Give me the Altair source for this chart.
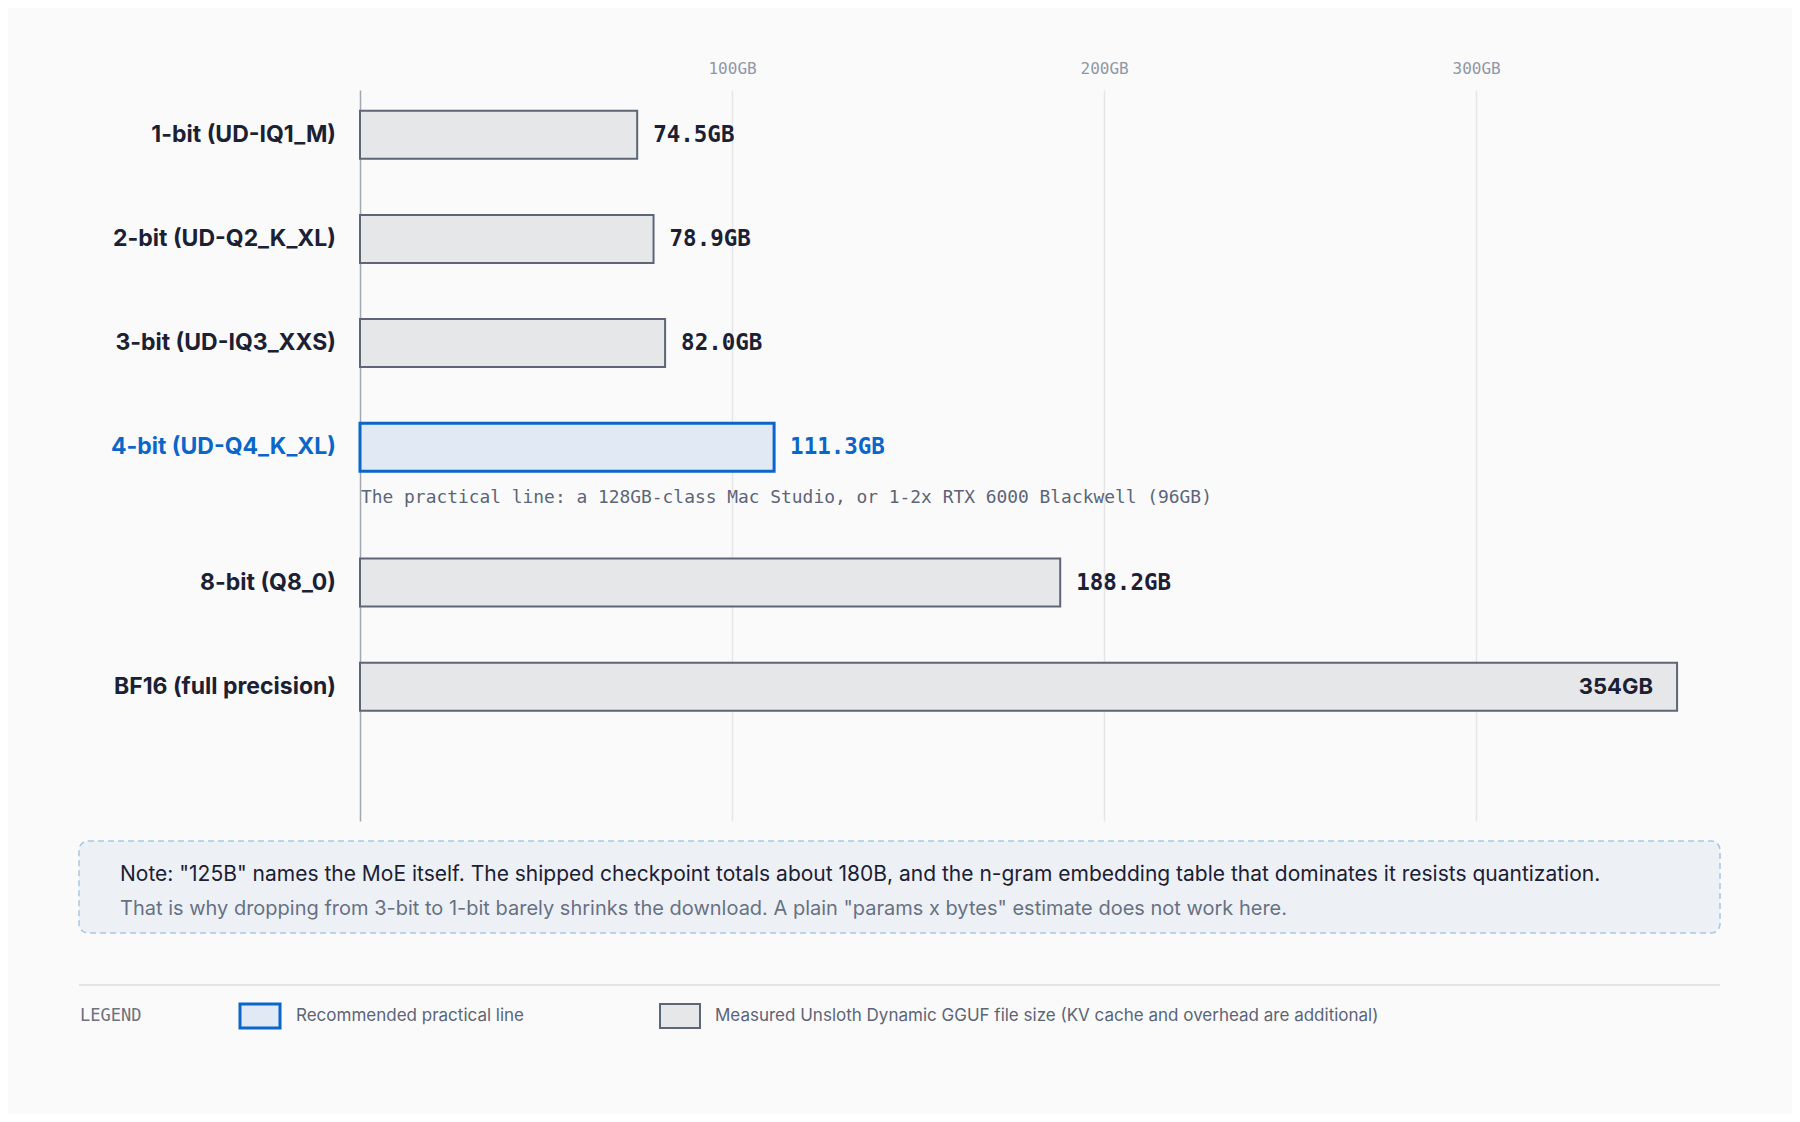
import altair as alt
import pandas as pd

# ---- data ----
categories = ["1-bit (UD-IQ1_M)", "2-bit (UD-Q2_K_XL)", "3-bit (UD-IQ3_XXS)",
              "4-bit (UD-Q4_K_XL)", "8-bit (Q8_0)", "BF16 (full precision)"]
sizes_gb = [74.5, 78.9, 82.0, 111.3, 188.2, 354]
size_labels = ["74.5GB", "78.9GB", "82.0GB", "111.3GB", "188.2GB", "354GB"]
recommended = [False, False, False, True, False, False]
axis_ticks = [100, 200, 300]

annotation = "The practical line: a 128GB-class Mac Studio, or 1-2x RTX 6000 Blackwell (96GB)"
note_line1 = ('Note: "125B" names the MoE itself. The shipped checkpoint totals about 180B, '
              'and the n-gram embedding table that dominates it resists quantization.')
note_line2 = ('That is why dropping from 3-bit to 1-bit barely shrinks the download. '
              'A plain "params x bytes" estimate does not work here.')
legend_title = "LEGEND"
legend_items = ["Recommended practical line",
                "Measured Unsloth Dynamic GGUF file size (KV cache and overhead are additional)"]

# row slots: extra room after the recommended row for its annotation
slots = [i + (0.3 if i >= 4 else 0.0) for i in range(len(categories))]

df = pd.DataFrame({
    "category": categories,
    "size": sizes_gb,
    "label": size_labels,
    "rec": recommended,
    "slot": slots,
})

SANS = "Inter"
MONO = "DejaVu Sans Mono"
DARK = "#1c2033"
BLUE = "#0a66c8"
GREY_TXT = "#5b6577"
BAR_STROKE = "#5c6678"
BAR_FILL = "#e6e7e9"
REC_FILL = "#e1eaf4"

W, H = 1358, 731
xscale = alt.Scale(domain=[0, 365], nice=False, zero=True, padding=0)
yscale = alt.Scale(domain=[-0.43, 6.59], reverse=True, nice=False, zero=False, padding=0)

base = alt.Chart(df)

x_enc = alt.X("size:Q", scale=xscale,
              axis=alt.Axis(orient="top", values=axis_ticks, labelExpr="datum.value + 'GB'",
                            grid=True, gridColor="#e6e6e6", gridWidth=1.5,
                            domain=False, ticks=False, title=None,
                            labelFont=MONO, labelFontSize=16, labelColor="#8f97a6",
                            labelPadding=14))
y_enc = alt.Y("slot:Q", scale=yscale,
              axis=alt.Axis(labels=False, ticks=False, grid=False, domain=True,
                            domainColor="#a3a8b0", domainWidth=1.5, title=None))

bars = base.transform_filter("!datum.rec").mark_bar(
    orient="horizontal", height=48, fill=BAR_FILL, stroke=BAR_STROKE, strokeWidth=2
).encode(x=x_enc, y=y_enc)

rec_bar = base.transform_filter("datum.rec").mark_bar(
    orient="horizontal", height=48, fill=REC_FILL, stroke=BLUE, strokeWidth=3
).encode(x=alt.X("size:Q", scale=xscale), y=alt.Y("slot:Q", scale=yscale))

txt_color = alt.condition("datum.rec", alt.value(BLUE), alt.value(DARK))

row_labels = base.mark_text(align="right", baseline="middle", dx=-24,
                            font=SANS, fontSize=23, fontWeight="bold").encode(
    x=alt.value(0), y=alt.Y("slot:Q", scale=yscale), text="category:N", color=txt_color)

val_out = base.transform_filter("datum.size < 300").mark_text(
    align="left", baseline="middle", dx=16, font=MONO, fontSize=22.5, fontWeight="bold"
).encode(x=alt.X("size:Q", scale=xscale), y=alt.Y("slot:Q", scale=yscale),
         text="label:N", color=txt_color)

val_in = base.transform_filter("datum.size >= 300").mark_text(
    align="right", baseline="middle", dx=-24, font=SANS, fontSize=22, fontWeight="bold"
).encode(x=alt.X("size:Q", scale=xscale), y=alt.Y("slot:Q", scale=yscale),
         text="label:N", color=alt.value(DARK))

annot = base.transform_filter("datum.rec").mark_text(
    align="left", baseline="middle", dx=1, dy=51, font=MONO, fontSize=17.9, color=GREY_TXT
).encode(x=alt.value(0), y=alt.Y("slot:Q", scale=yscale), text=alt.value(annotation))

one = alt.Data(values=[{"k": 1}])

note_box = alt.Chart(one).mark_rect(
    fill="#edf1f6", stroke="#a6c7ea", strokeDash=[6, 4], strokeWidth=1.5, cornerRadius=9
).encode(x=alt.value(-281), x2=alt.value(1360), y=alt.value(751), y2=alt.value(843))

note1 = alt.Chart(one).mark_text(align="left", baseline="middle", font=SANS,
                                 fontSize=21, color=DARK).encode(
    x=alt.value(-240), y=alt.value(785), text=alt.value(note_line1))
note2 = alt.Chart(one).mark_text(align="left", baseline="middle", font=SANS,
                                 fontSize=20, color="#687183").encode(
    x=alt.value(-240), y=alt.value(819), text=alt.value(note_line2))

sep = alt.Chart(one).mark_rule(color="#e4e4e4", strokeWidth=2).encode(
    x=alt.value(-281), x2=alt.value(1360), y=alt.value(895))

leg_title = alt.Chart(one).mark_text(align="left", baseline="middle", font=MONO,
                                     fontSize=17, color="#6b7280").encode(
    x=alt.value(-280), y=alt.value(926), text=alt.value(legend_title))

sw1 = alt.Chart(one).mark_rect(fill=REC_FILL, stroke=BLUE, strokeWidth=3).encode(
    x=alt.value(-120), x2=alt.value(-80), y=alt.value(914), y2=alt.value(938))
sw2 = alt.Chart(one).mark_rect(fill=BAR_FILL, stroke=BAR_STROKE, strokeWidth=2).encode(
    x=alt.value(300), x2=alt.value(340), y=alt.value(914), y2=alt.value(938))

leg1 = alt.Chart(one).mark_text(align="left", baseline="middle", font=SANS,
                                fontSize=17, color=GREY_TXT).encode(
    x=alt.value(-64), y=alt.value(926), text=alt.value(legend_items[0]))
leg2 = alt.Chart(one).mark_text(align="left", baseline="middle", font=SANS,
                                fontSize=17, color=GREY_TXT).encode(
    x=alt.value(355), y=alt.value(926), text=alt.value(legend_items[1]))

chart = alt.layer(
    bars, rec_bar, row_labels, val_out, val_in, annot,
    note_box, note1, note2, sep, leg_title, sw1, sw2, leg1, leg2
).properties(
    width=W, height=H,
    autosize=alt.AutoSizeParams(type="none"),
    padding={"left": 352, "top": 82, "right": 74, "bottom": 293},
    background="#fafafa",
).configure_view(stroke=None)

chart.save("out.html", embed_options={"renderer": "svg", "actions": False})
